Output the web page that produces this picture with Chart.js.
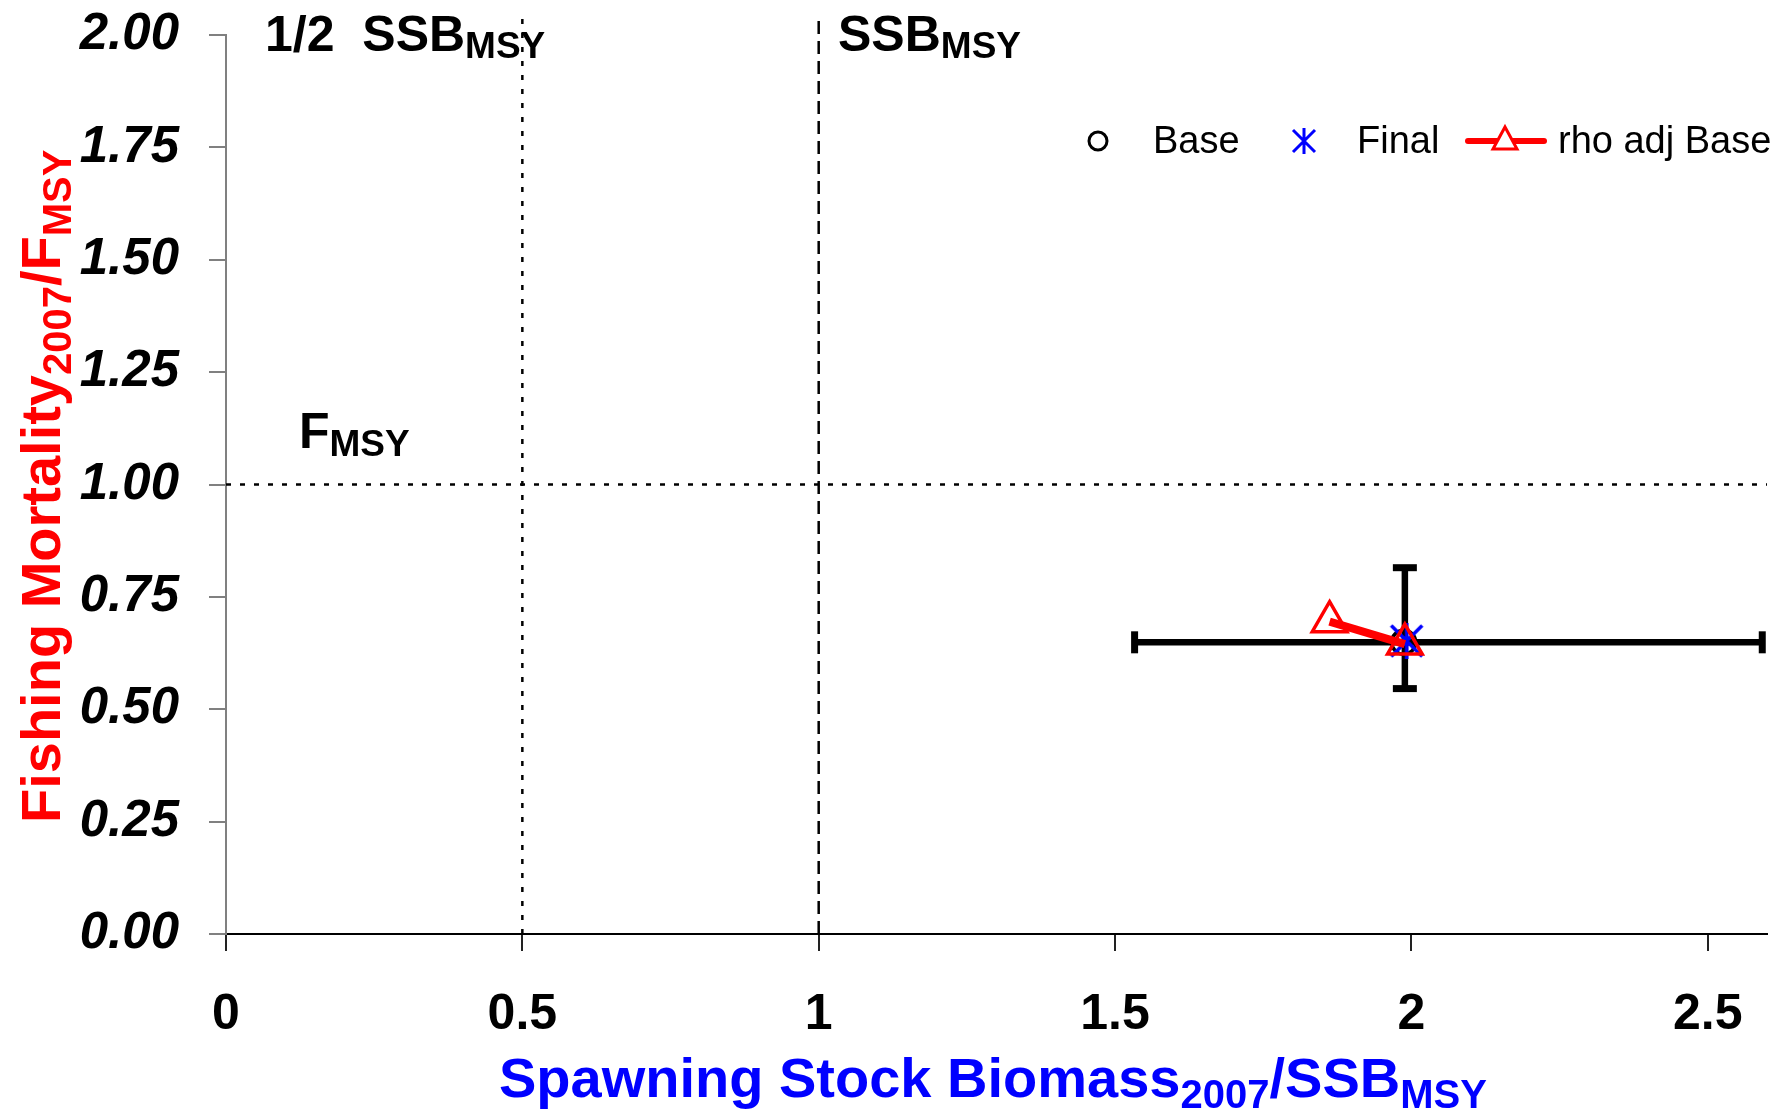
<!DOCTYPE html>
<html>
<head>
<meta charset="utf-8">
<script src="https://cdn.jsdelivr.net/npm/chart.js@4.4.0/dist/chart.umd.min.js"></script>
<style>
  html, body { margin: 0; padding: 0; background: #fff; }
  #wrap { width: 1792px; height: 1112px; position: relative; }
</style>
</head>
<body>
<div id="wrap"><canvas id="kobe"></canvas></div>
<script>
// axis ranges and ticks
const xTicks = [0, 0.5, 1, 1.5, 2, 2.5];
const yTicks = [0, 0.25, 0.5, 0.75, 1.0, 1.25, 1.5, 1.75, 2.0];
const xMax = 2.6;
const yMax = 2.0;

// reference points (1/2 SSBmsy, SSBmsy, Fmsy)
const halfSsbMsy = 0.5;
const ssbMsy = 1.0;
const fMsy = 1.0;
const refLineTop = 2.04;

// Base run estimate with confidence intervals
const baseSsb = [1.987];
const baseF = [0.649];
const baseSsbCI = [1.533, 2.592];
const baseFCI = [0.546, 0.815];

// Final run
const finalSsb = [1.992];
const finalF = [0.652];

// rho adjusted base (unadjusted -> adjusted)
const rhoSsb = [1.862, 1.989];
const rhoF = [0.695, 0.645];

const RED = '#ff0000';
const BLUE = '#0000ff';
const FONT = "'Liberation Sans', Arial, sans-serif";

function pts(xs, ys) {
    return xs.map((x, i) => ({ x: x, y: ys[i] }));
}

// asterisk marker like Excel's (X with a vertical bar)
function asterisk(size, lw) {
    const c = document.createElement('canvas');
    c.width = size; c.height = size;
    const g = c.getContext('2d');
    g.strokeStyle = BLUE;
    g.lineWidth = lw;
    const m = lw, s = size - lw;
    g.beginPath();
    g.moveTo(m, m); g.lineTo(s, s);
    g.moveTo(s, m); g.lineTo(m, s);
    g.moveTo(size / 2, 1); g.lineTo(size / 2, size - 1);
    g.stroke();
    return c;
}
const starBig = asterisk(38, 3.5);
const starSmall = asterisk(28, 3);

// text with subscripts
function richText(ctx, parts, x, y) {
    let cx = x;
    parts.forEach(p => {
        ctx.font = 'bold ' + p.size + 'px ' + FONT;
        ctx.fillText(p.t, cx, y + (p.dy || 0));
        cx += ctx.measureText(p.t).width;
    });
}

const overlay = {
    id: 'overlay',
    afterDraw(chart) {
        const ctx = chart.ctx;
        ctx.save();
        ctx.textBaseline = 'alphabetic';
        ctx.textAlign = 'left';

        // reference labels
        ctx.fillStyle = '#000';
        richText(ctx, [{ t: '1/2  SSB', size: 50 }, { t: 'MSY', size: 37, dy: 7 }], 265, 51);
        richText(ctx, [{ t: 'SSB', size: 50 }, { t: 'MSY', size: 37, dy: 7 }], 838, 51);
        richText(ctx, [{ t: 'F', size: 50 }, { t: 'MSY', size: 37, dy: 8 }], 299, 448);

        // x axis title
        ctx.fillStyle = BLUE;
        richText(ctx, [
            { t: 'Spawning Stock Biomass', size: 56 },
            { t: '2007', size: 40, dy: 11 },
            { t: '/SSB', size: 56 },
            { t: 'MSY', size: 40, dy: 11 }
        ], 499, 1097);

        // y axis title
        ctx.fillStyle = RED;
        ctx.translate(60, 823);
        ctx.rotate(-Math.PI / 2);
        richText(ctx, [
            { t: 'Fishing Mortality', size: 56 },
            { t: '2007', size: 40, dy: 11 },
            { t: '/F', size: 56 },
            { t: 'MSY', size: 40, dy: 11 }
        ], 0, 0);
        ctx.restore();

        // legend inside the plot
        ctx.save();
        const ly = 141;
        ctx.font = '38px ' + FONT;
        ctx.fillStyle = '#000';
        ctx.textBaseline = 'middle';
        ctx.strokeStyle = '#000';
        ctx.lineWidth = 3;
        ctx.beginPath();
        ctx.arc(1098, ly, 9, 0, Math.PI * 2);
        ctx.stroke();
        ctx.fillText('Base', 1153, ly + 2);
        ctx.drawImage(starSmall, 1304 - 14, ly - 14);
        ctx.fillText('Final', 1357, ly + 2);
        ctx.strokeStyle = RED;
        ctx.lineWidth = 6;
        ctx.lineCap = 'round';
        ctx.beginPath();
        ctx.moveTo(1468, ly); ctx.lineTo(1544, ly);
        ctx.stroke();
        ctx.lineWidth = 3;
        ctx.lineCap = 'butt';
        ctx.fillStyle = '#fff';
        ctx.beginPath();
        ctx.moveTo(1505, ly - 14);
        ctx.lineTo(1505 + 12, ly + 8);
        ctx.lineTo(1505 - 12, ly + 8);
        ctx.closePath();
        ctx.fill();
        ctx.stroke();
        ctx.fillStyle = '#000';
        ctx.fillText('rho adj Base', 1558, ly + 2);
        ctx.restore();
    }
};

const refLine = (data, dash) => ({
    data: data,
    showLine: true,
    borderColor: '#000',
    borderWidth: 2.5,
    borderDash: dash,
    pointRadius: 0,
    clip: false,
    order: 5
});

new Chart(document.getElementById('kobe'), {
    type: 'scatter',
    data: {
        datasets: [
            {
                label: 'rho adj Base',
                data: pts(rhoSsb, rhoF),
                showLine: true,
                borderColor: RED,
                borderWidth: 8,
                pointStyle: 'triangle',
                pointRadius: 20,
                pointBorderWidth: 3.5,
                pointBorderColor: RED,
                pointBackgroundColor: 'rgba(0,0,0,0)',
                order: 0
            },
            {
                label: 'Final',
                data: pts(finalSsb, finalF),
                pointStyle: starBig,
                pointRadius: 19,
                order: 1
            },
            {
                label: 'Base',
                data: pts(baseSsb, baseF),
                pointStyle: 'circle',
                pointRadius: 12,
                pointBorderWidth: 3.5,
                pointBorderColor: '#000',
                pointBackgroundColor: 'rgba(0,0,0,0)',
                order: 2
            },
            {
                label: 'SSB CI',
                data: pts(baseSsbCI, [baseF[0], baseF[0]]),
                showLine: true,
                borderColor: '#000',
                borderWidth: 6.5,
                pointStyle: 'line',
                pointRotation: 90,
                pointRadius: 11,
                pointBorderWidth: 7,
                pointBorderColor: '#000',
                clip: false,
                order: 3
            },
            {
                label: 'F CI',
                data: pts([baseSsb[0] + 0.002, baseSsb[0] + 0.002], baseFCI),
                showLine: true,
                borderColor: '#000',
                borderWidth: 6.5,
                pointStyle: 'line',
                pointRadius: 12,
                pointBorderWidth: 7,
                pointBorderColor: '#000',
                order: 3
            },
            refLine(pts([halfSsbMsy, halfSsbMsy], [0, refLineTop]), [5, 9]),
            refLine(pts([ssbMsy, ssbMsy], [0, refLineTop]), [13, 7]),
            refLine(pts([0, xMax], [fMsy, fMsy]), [5, 9])
        ]
    },
    options: {
        responsive: true,
        maintainAspectRatio: false,
        devicePixelRatio: 1,
        animation: false,
        layout: { padding: { top: 29, right: 25, left: 0, bottom: 0 } },
        plugins: {
            legend: { display: false },
            tooltip: { enabled: false }
        },
        elements: { point: { hoverRadius: 0 } },
        scales: {
            x: {
                type: 'linear',
                min: 0,
                max: xMax,
                afterBuildTicks: s => { s.ticks = xTicks.map(v => ({ value: v })); },
                afterFit: s => { s.height = 178; },
                border: { color: '#000', width: 2 },
                grid: { drawOnChartArea: false, tickLength: 17, color: '#222', lineWidth: 2 },
                ticks: {
                    color: '#000',
                    padding: 34,
                    font: { family: FONT, size: 50, weight: 'bold' },
                    callback: v => String(v),
                    maxRotation: 0
                }
            },
            y: {
                type: 'linear',
                min: 0,
                max: yMax,
                afterBuildTicks: s => { s.ticks = yTicks.map(v => ({ value: v })); },
                afterFit: s => { s.width = 226; },
                border: { color: '#808080', width: 2 },
                grid: { drawOnChartArea: false, tickLength: 17, color: '#808080', lineWidth: 2 },
                ticks: {
                    color: '#000',
                    padding: 30,
                    font: { family: FONT, size: 51, weight: 'bold', style: 'italic', lineHeight: 0.2 },
                    callback: v => v.toFixed(2)
                }
            }
        }
    },
    plugins: [overlay]
});
</script>
</body>
</html>
